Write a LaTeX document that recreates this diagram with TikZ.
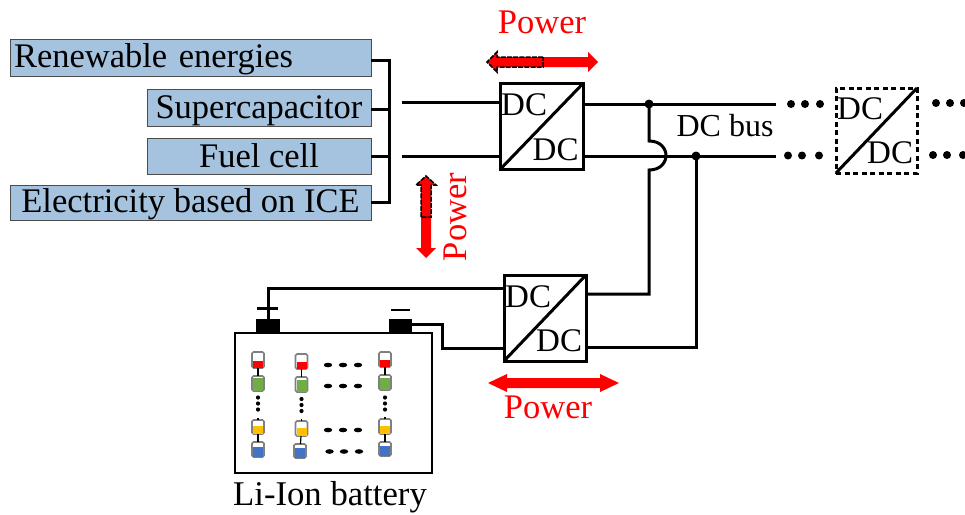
\documentclass[tikz,border=0pt]{standalone}
\usepackage{fontspec}
\setmainfont{Liberation Serif}
\definecolor{srcblue}{RGB}{165,195,222}
\definecolor{cellred}{RGB}{255,0,0}
\definecolor{cellgreen}{RGB}{112,173,71}
\definecolor{cellyellow}{RGB}{255,192,0}
\definecolor{cellblue}{RGB}{68,114,196}
\tikzset{
  srcbox/.style={draw=black!70,fill=srcblue,line width=1pt,inner sep=0pt,outer sep=0pt,font=\fontsize{34.5}{38}\selectfont},
  dcbox/.style={draw=black,line width=3pt,inner sep=0pt,outer sep=0pt,fill=white},
  dcdash/.style={draw=black,line width=3pt,dash pattern=on 5pt off 3.5pt,inner sep=0pt,outer sep=0pt,fill=white},
  dclabel/.style={anchor=base west,inner sep=0pt,font=\fontsize{33}{36}\selectfont},
  wire/.style={line width=3pt,line join=miter},
  powertext/.style={anchor=base,inner sep=0pt,text=red,font=\fontsize{34.5}{38}\selectfont},
  plain/.style={anchor=base,inner sep=0pt,font=\fontsize{32}{36}\selectfont},
  cellbox/.style={draw=black!50,line width=1.6pt,fill=white,rounded corners=1.5pt,minimum width=12pt,inner sep=0pt,outer sep=0pt},
  cellwire/.style={line width=1.2pt},
  dotty/.style={fill=black},
  powerarrow/.style={fill=red,draw=none},
  dashout/.style={draw=black,line width=1.5pt,dash pattern=on 5pt off 1.2pt,line join=miter},
}
% name, x, y top, y bottom, colour, y where the colour starts
\newcommand\cellbat[6]{%
  \node[cellbox,minimum height=#4pt-#3pt] (#1) at (#2,{(#3+#4)/2}) {};
  \fill[#5] (#2-5,#6-1) rectangle (#2+5,#4-0.4);
}
\newcommand\ptdot[2]{\fill[dotty] (#1,#2) circle (4);}
\newcommand\smalldot[2]{\fill[dotty] (#1,#2) circle (2.1);}
\newcommand\dashblob[2]{\fill[dotty] (#1,#2) ellipse (4.2 and 2.3);}
\begin{document}
\begin{tikzpicture}[x=1pt,y=-1pt]
\useasboundingbox (0,0) rectangle (965,514);
% source boxes
\node[srcbox,text width=353pt,align=left,text height=28pt,text depth=9pt,inner xsep=4pt,anchor=west] (ren) at (10,57.5) {Renewable energies};
\node[srcbox,minimum width=224pt,text height=29pt,text depth=8pt,anchor=west] (sup) at (147,107.5) {Supercapacitor};
\node[srcbox,minimum width=224pt,text height=29pt,text depth=7pt,anchor=west] (fuel) at (147,156) {Fuel cell};
\node[srcbox,minimum width=361pt,text height=27pt,text depth=8pt,anchor=west] (ice) at (10,202.5) {Electricity based on ICE};
% collector
\coordinate (bt) at (389,60);
\coordinate (bb) at (389,202);
\draw[wire] (ren.east |- bt) -- (bt) -- (bb) -- (ice.east |- bb);
\draw[wire] (sup.east |- 0,109) -- (389,109);
\draw[wire] (fuel.east |- 0,156) -- (389,156);
% converters
\node[dcbox,minimum width=83pt,minimum height=86pt] (dca) at (541.5,126.5) {};
\node[dcbox,minimum width=82pt,minimum height=86pt] (dcb) at (545,318) {};
\node[dcdash,minimum width=81pt,minimum height=85pt] (dcc) at (876.5,130.5) {};
\draw[wire] (dca.south west) -- (dca.north east);
\draw[wire] (dcb.south west) -- (dcb.north east);
\draw[wire] (dcc.south west) -- (dcc.north east);
\node[dclabel] (dca1) at (501,115) {DC};
\node[dclabel] (dca2) at (532.5,160) {DC};
\node[dclabel] (dcb1) at (505,307) {DC};
\node[dclabel] (dcb2) at (536,351) {DC};
\node[dclabel] (dcc1) at (837,119) {DC};
\node[dclabel] (dcc2) at (867,163) {DC};
% left stubs into first converter
\coordinate (la) at (402,102);
\coordinate (lb) at (402,156);
\draw[wire] (la) -- (la -| dca.west);
\draw[wire] (lb) -- (lb -| dca.west);
% DC bus
\coordinate (busa) at (776,104);
\coordinate (busb) at (776,156);
\draw[wire] (dca.east |- busa) -- (busa);
\draw[wire] (dca.east |- busb) -- (busb);
\coordinate (ja) at (649,104);
\coordinate (jb) at (696,156);
\coordinate (ha) at (649,141);
\coordinate (hb) at (649,170);
\coordinate (ca) at (649,294);
\coordinate (cb) at (695,347);
\draw[wire] (ja) -- (ha) .. controls (661,141) and (666,149) .. (666,155.5) .. controls (666,162) and (661,170) .. (hb) -- (ca) -- (ca -| dcb.east);
\draw[wire] (jb) -- (jb |- cb) -- (cb -| dcb.east);
\fill[dotty] (ja) circle (4.5);
\fill[dotty] (jb) circle (4.5);
\node[plain] (busl) at (725,136) {DC bus};
% dotted continuations
\ptdot{791}{104}\ptdot{805}{104}\ptdot{820}{104}
\ptdot{788}{155.5}\ptdot{802}{155.5}\ptdot{819}{155.5}
\ptdot{936}{103}\ptdot{950}{103}\ptdot{964}{103}
\ptdot{933}{155}\ptdot{947}{155}\ptdot{963}{155}
% battery
\node[draw=black,line width=2.6pt,minimum width=197pt,minimum height=140pt,inner sep=0pt,outer sep=0pt] (batt) at (333.5,403) {};
\node[fill=black,minimum width=24pt,minimum height=15pt,inner sep=0pt,outer sep=0pt] (tplus) at (268,326) {};
\node[fill=black,minimum width=23pt,minimum height=15pt,inner sep=0pt,outer sep=0pt] (tminus) at (400.5,326) {};
\coordinate (pa) at (268,288);
\draw[wire] (tplus.north) -- (pa) -- (pa -| dcb.west);
\coordinate (ma) at (442,324);
\coordinate (mb) at (442,348);
\draw[wire] (tminus.east |- ma) -- (ma) -- (mb) -- (mb -| dcb.west);
\draw[line width=2.4pt] (257,308.5) -- (278,308.5);
\draw[line width=2.4pt] (391,310) -- (410,310);
% cells
\cellbat{c11}{258}{352}{368}{cellred}{362}
\cellbat{c12}{258}{376}{391}{cellgreen}{379}
\cellbat{c13}{258}{420}{434}{cellyellow}{427}
\cellbat{c14}{258}{442}{457}{cellblue}{448}
\cellbat{c21}{301.5}{354}{369}{cellred}{363}
\cellbat{c22}{301.5}{377}{392}{cellgreen}{381}
\cellbat{c23}{301.5}{421}{436}{cellyellow}{429}
\cellbat{c24}{300}{444}{458}{cellblue}{449}
\cellbat{c31}{385}{352}{367}{cellred}{361}
\cellbat{c32}{385}{375}{390}{cellgreen}{379}
\cellbat{c33}{385}{419}{434}{cellyellow}{427}
\cellbat{c34}{385}{442}{456}{cellblue}{447}
\draw[cellwire] (c11) -- (c12);
\draw[cellwire] (c13) -- (c14);
\draw[cellwire] (c21) -- (c22);
\draw[cellwire] (c23) -- (c24);
\draw[cellwire] (c31) -- (c32);
\draw[cellwire] (c33) -- (c34);
\foreach \v in {397.5,403.5,409.5}{\smalldot{258}{\v}\smalldot{385}{\v}}
\foreach \v in {405,411,399}{\smalldot{301.5}{\v}}
\draw[cellwire] (c13.north) -- +(0,-2);
\draw[cellwire] (c23.north) -- +(0,-2);
\draw[cellwire] (c33.north) -- +(0,-2);
\foreach \v in {365,386,430}{\dashblob{328}{\v}\dashblob{343}{\v}\dashblob{358}{\v}}
\dashblob{329.5}{451.5}\dashblob{344}{451.5}\dashblob{359}{451.5}
\node[plain] (lib) at (330,505) {\fontsize{34.7}{38}\selectfont Li-Ion battery};
% power arrows
\fill[powerarrow] (487,62) -- (497,52) -- (497,57) -- (588,57) -- (588,52) -- (598,62) -- (588,72) -- (588,67) -- (497,67) -- (497,72) -- cycle;
\draw[dashout] (543,57) -- (497,57) -- (497,52) -- (487,62) -- (497,72) -- (497,67) -- (543,67) -- cycle;
\fill[powerarrow] (426,176) -- (436,185) -- (431,185) -- (431,248) -- (436,248) -- (426,258) -- (416,248) -- (421,248) -- (421,185) -- (416,185) -- cycle;
\draw[dashout] (421,217) -- (421,185) -- (416,185) -- (426,176) -- (436,185) -- (431,185) -- (431,217) -- cycle;
\fill[powerarrow] (488,383) -- (507,374) -- (507,378) -- (600,378) -- (600,374) -- (619,383) -- (600,392) -- (600,388) -- (507,388) -- (507,392) -- cycle;
\node[powertext] (pt1) at (542,33) {Power};
\node[powertext,rotate=90] (pt2) at (466,217) {Power};
\node[powertext] (pt3) at (548,418) {Power};
\end{tikzpicture}
\end{document}
